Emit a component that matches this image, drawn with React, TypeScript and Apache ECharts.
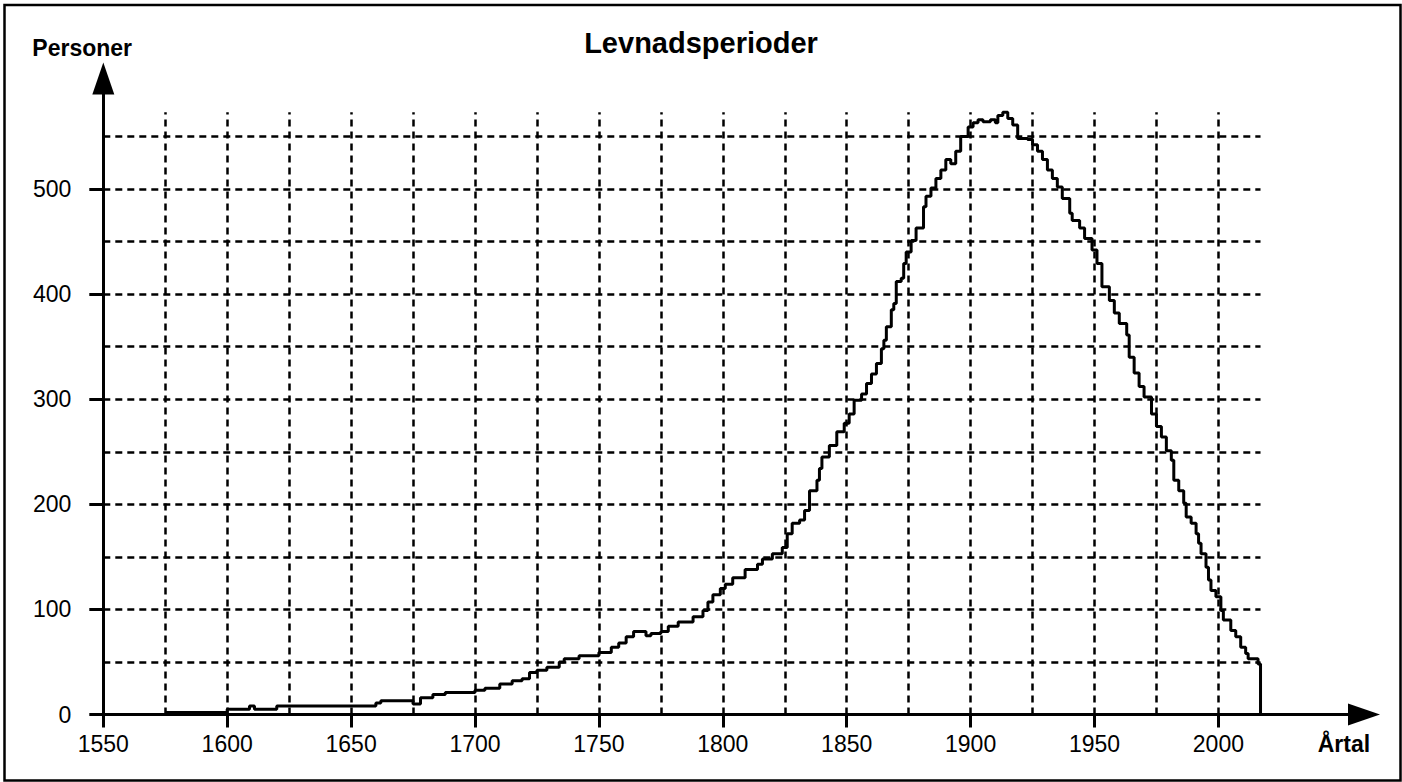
import React, { useEffect, useRef } from "react";
import * as echarts from "echarts";

// Year at which each level starts (step holds until next year)
const years = [
  1575, 1600, 1609, 1611, 1620, 1660, 1662, 1675, 1678, 1683, 1688, 1700, 1704, 1710, 1715, 1719,
  1722, 1725, 1729, 1734, 1736, 1742, 1750, 1755, 1758, 1761, 1764, 1769, 1771, 1775, 1778, 1782,
  1788, 1792, 1794, 1796, 1799, 1801, 1804, 1809, 1814, 1816, 1820, 1824, 1826, 1828, 1831, 1833,
  1835, 1838, 1839, 1840, 1843, 1846, 1849, 1851, 1853, 1856, 1858, 1860, 1862, 1864, 1865, 1866,
  1868, 1869, 1870, 1872, 1873, 1874, 1876, 1878, 1881, 1882, 1884, 1886, 1888, 1890, 1892, 1894,
  1896, 1899, 1901, 1903, 1905, 1908, 1910, 1911, 1913, 1915, 1917, 1919, 1923, 1925, 1927, 1929,
  1931, 1933, 1935, 1937, 1940, 1941, 1944, 1946, 1949, 1951, 1953, 1956, 1958, 1960, 1963, 1964,
  1966, 1968, 1970, 1973, 1975, 1977, 1979, 1981, 1982, 1984, 1986, 1987, 1989, 1991, 1992, 1993,
  1995, 1996, 1997, 1999, 2001, 2002, 2005, 2007, 2009, 2011, 2012, 2016, 2017,
];
const persons = [
  2, 5, 8, 5, 8, 11, 13, 10, 16, 19, 21, 23, 25, 29, 32, 34,
  40, 42, 45, 50, 53, 56, 59, 64, 68, 74, 79, 75, 77, 79, 84, 88,
  93, 99, 107, 114, 120, 124, 130, 138, 143, 148, 153, 159, 172, 182, 185, 194,
  213, 223, 234, 245, 256, 269, 277, 286, 299, 305, 315, 324, 334, 348, 356, 369,
  385, 391, 412, 415, 429, 440, 451, 463, 483, 493, 501, 510, 518, 528, 524, 536,
  550, 559, 563, 566, 564, 566, 563, 570, 573, 567, 561, 548, 547, 542, 536, 528,
  518, 510, 502, 491, 477, 470, 463, 453, 442, 429, 407, 394, 382, 372, 361, 340,
  325, 312, 302, 286, 274, 264, 251, 242, 223, 213, 201, 188, 182, 172, 163, 153,
  140, 128, 118, 112, 99, 90, 80, 74, 64, 58, 53, 48, 0,
];

const xTickLabels = [1550, 1600, 1650, 1700, 1750, 1800, 1850, 1900, 1950, 2000];
const yTickLabels = [0, 100, 200, 300, 400, 500];
const xGridYears = [
  1575, 1600, 1625, 1650, 1675, 1700, 1725, 1750, 1775, 1800, 1825, 1850, 1875, 1900, 1925, 1950,
  1975, 2000,
];
const yGridValues = [50, 100, 150, 200, 250, 300, 350, 400, 450, 500, 550];

const X_MIN = 1550;
const X_MAX = 2017;
const Y_MAX = 573;

const TITLE = "Levnadsperioder";
const Y_NAME = "Personer";
const X_NAME = "Årtal";

const FONT = "'Liberation Sans', Arial, Helvetica, sans-serif";

export default function App() {
  const ref = useRef<HTMLDivElement>(null);

  useEffect(() => {
    if (!ref.current) return;
    const chart = echarts.init(ref.current, null, { renderer: "svg" });

    const pxPerYear = 2.478;
    const pxPerUnit = 1.051;
    const originX = 103.3;
    const originY = 714.5;
    const plotW = (X_MAX - X_MIN) * pxPerYear;
    const plotH = Y_MAX * pxPerUnit;

    const gridLineStyle = { color: "#000", width: 2.5, type: [7, 5] as number[] };

    const markData: any[] = [];
    xGridYears.forEach((yr) => {
      markData.push([{ coord: [yr, 0] }, { coord: [yr, Y_MAX] }]);
    });
    yGridValues.forEach((v) => {
      markData.push([{ coord: [X_MIN, v] }, { coord: [X_MAX, v] }]);
    });

    const plain = (v: number) => String(v);

    const option: any = {
      animation: false,
      backgroundColor: "#fff",
      grid: [
        {
          left: originX,
          top: originY - plotH,
          width: plotW,
          height: plotH,
        },
        {
          left: originX,
          top: 78.5,
          width: 1364 - originX,
          height: originY - 78.5,
        },
      ],
      xAxis: [
        {
          type: "value",
          gridIndex: 0,
          min: X_MIN,
          max: X_MAX,
          axisLine: { show: false },
          splitLine: { show: false },
          axisTick: {
            show: true,
            customValues: xTickLabels,
            length: 13,
            lineStyle: { color: "#000", width: 3 },
          },
          axisLabel: {
            customValues: xTickLabels,
            formatter: plain,
            fontSize: 23,
            fontFamily: FONT,
            color: "#000",
            margin: 18,
          },
        },
        {
          type: "value",
          gridIndex: 1,
          min: 0,
          max: 1,
          axisLine: {
            show: true,
            symbol: ["none", "triangle"],
            symbolSize: [22, 32],
            lineStyle: { color: "#000", width: 3 },
          },
          axisTick: { show: false },
          axisLabel: { show: false },
          splitLine: { show: false },
        },
      ],
      yAxis: [
        {
          type: "value",
          gridIndex: 0,
          min: 0,
          max: Y_MAX,
          axisLine: { show: false },
          splitLine: { show: false },
          axisTick: {
            show: true,
            customValues: yTickLabels,
            length: 14,
            lineStyle: { color: "#000", width: 3 },
          },
          axisLabel: {
            customValues: yTickLabels,
            formatter: plain,
            fontSize: 23,
            fontFamily: FONT,
            color: "#000",
            margin: 32,
          },
        },
        {
          type: "value",
          gridIndex: 1,
          min: 0,
          max: 1,
          axisLine: {
            show: true,
            symbol: ["none", "triangle"],
            symbolSize: [22, 32],
            lineStyle: { color: "#000", width: 3 },
          },
          axisTick: { show: false },
          axisLabel: { show: false },
          splitLine: { show: false },
        },
      ],
      series: [
        {
          type: "line",
          xAxisIndex: 0,
          yAxisIndex: 0,
          step: "end",
          symbol: "none",
          showSymbol: false,
          clip: false,
          z: 3,
          lineStyle: { color: "#000", width: 3 },
          data: years.map((y, i) => [y, persons[i]]),
          markLine: {
            z: 1,
            silent: true,
            symbol: ["none", "none"],
            label: { show: false },
            lineStyle: gridLineStyle,
            emphasis: { disabled: true },
            data: markData,
          },
        },
      ],
      graphic: [
        {
          type: "rect",
          shape: { x: 4.5, y: 5, width: 1396, height: 775.5 },
          style: { fill: "none", stroke: "#000", lineWidth: 2.5 },
          silent: true,
          z: 0,
        },
        {
          type: "text",
          x: 701,
          y: 43,
          style: {
            text: TITLE,
            fontSize: 29,
            fontWeight: "bold",
            fontFamily: FONT,
            fill: "#000",
            align: "center",
            verticalAlign: "middle",
          },
        },
        {
          type: "text",
          x: 32.3,
          y: 48,
          style: {
            text: Y_NAME,
            fontSize: 23,
            fontWeight: "bold",
            fontFamily: FONT,
            fill: "#000",
            align: "left",
            verticalAlign: "middle",
          },
        },
        {
          type: "text",
          x: 1317.7,
          y: 743.6,
          style: {
            text: X_NAME,
            fontSize: 23,
            fontWeight: "bold",
            fontFamily: FONT,
            fill: "#000",
            align: "left",
            verticalAlign: "middle",
          },
        },
      ],
    };

    chart.setOption(option);
    return () => chart.dispose();
  }, []);

  return (
    <div
      ref={ref}
      style={{ position: "fixed", left: 0, top: 0, width: 1402, height: 782, background: "#fff" }}
    />
  );
}
